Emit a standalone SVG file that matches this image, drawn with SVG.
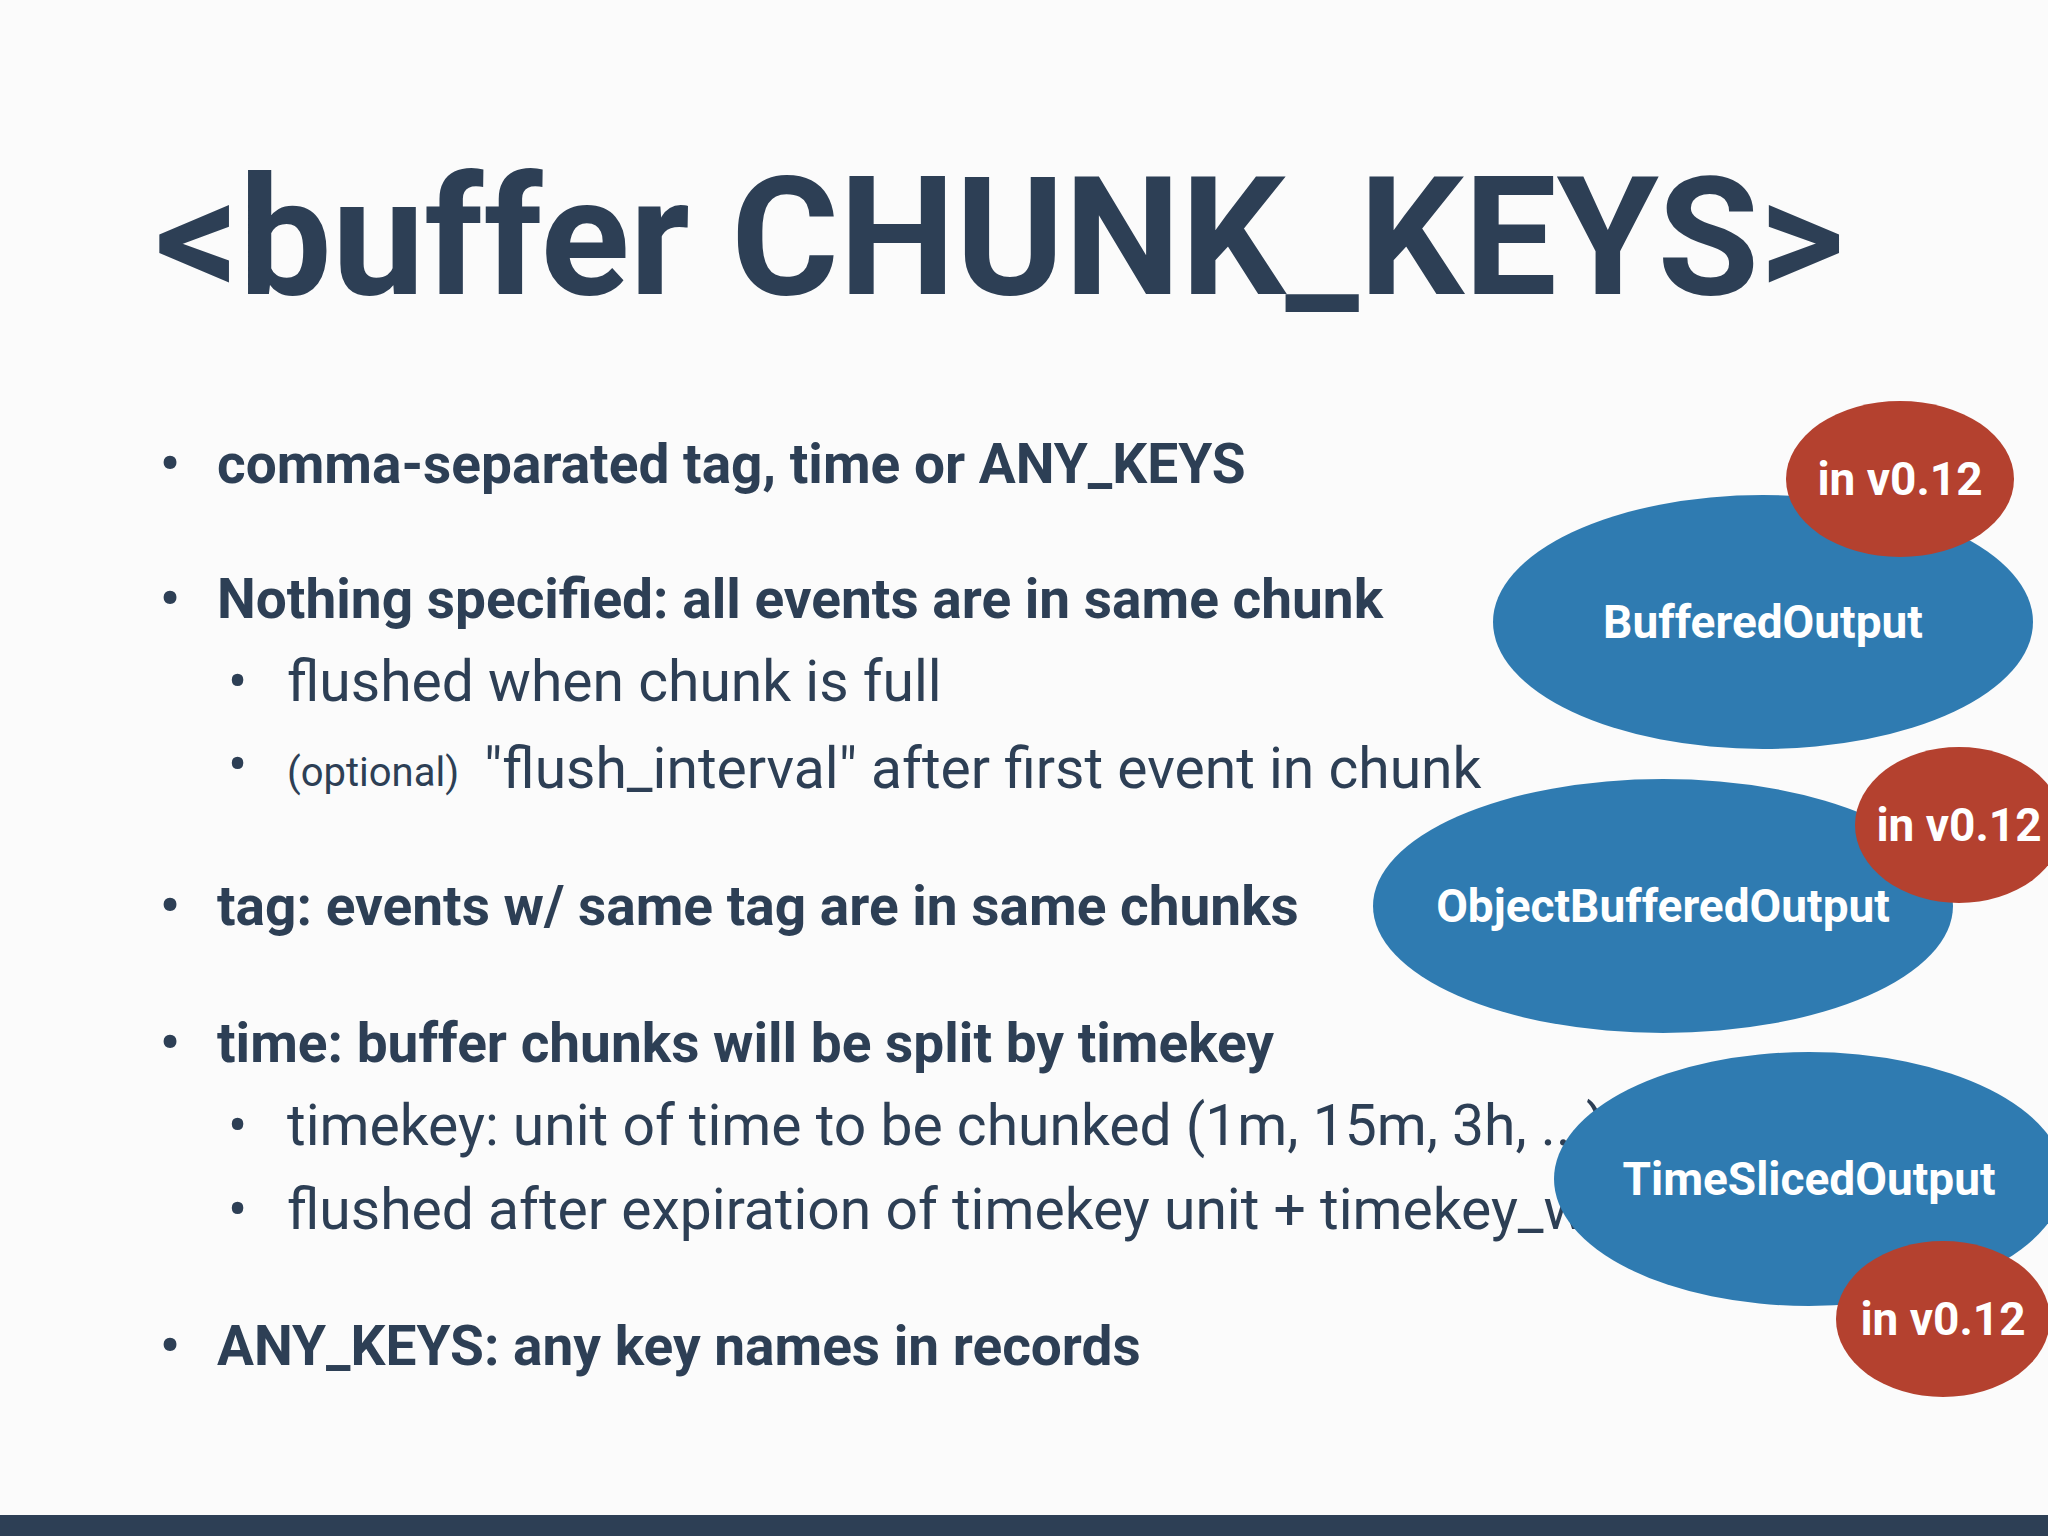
<svg xmlns="http://www.w3.org/2000/svg" width="2048" height="1536" viewBox="0 0 2048 1536">
<style>
.t{font-family:Roboto,"Liberation Sans",sans-serif;fill:#2d3f55}
.b{font-weight:bold;font-size:55px}
.r{font-size:57px}
.blue{fill:#2f7bb1}
.red{fill:#b4412f}
.w{font-family:Roboto,"Liberation Sans",sans-serif;fill:#fff;font-weight:bold;font-size:46px;text-anchor:middle}
</style>
<rect width="2048" height="1536" fill="#fbfbfb"/>
<text class="t" x="155" y="294" font-size="165" font-weight="bold">&lt;buffer CHUNK_KEYS&gt;</text>
<g class="t">
<text class="b" x="160" y="483">•</text><text class="b" x="217" y="483">comma-separated tag, time or ANY_KEYS</text>
<text class="b" x="160" y="618">•</text><text class="b" x="217" y="618">Nothing specified: all events are in same chunk</text>
<text class="r" x="228" y="701" font-size="36">•</text><text class="r" x="287" y="701">flushed when chunk is full</text>
<text class="r" x="228" y="784" font-size="30">•</text><text x="287" y="786" font-size="40">(optional)</text><text class="r" x="484" y="788">"flush_interval" after first event in chunk</text>
<text class="b" x="160" y="925">•</text><text class="b" x="217" y="925">tag: events w/ same tag are in same chunks</text>
<text class="b" x="160" y="1062">•</text><text class="b" x="217" y="1062">time: buffer chunks will be split by timekey</text>
<text class="r" x="228" y="1145" font-size="36">•</text><text class="r" x="287" y="1145">timekey: unit of time to be chunked (1m, 15m, 3h, ...)</text>
<text class="r" x="228" y="1229" font-size="36">•</text><text class="r" x="287" y="1229">flushed after expiration of timekey unit + timekey_wait</text>
<text class="b" x="160" y="1365">•</text><text class="b" x="217" y="1365">ANY_KEYS: any key names in records</text>
</g>
<g id="buffered">
<ellipse class="blue" cx="1763" cy="622" rx="270" ry="127"/>
<text class="w" x="1763" y="638">BufferedOutput</text>
</g>
<g id="v1"><ellipse class="red" cx="1900" cy="479" rx="114" ry="78"/><text class="w" x="1900" y="495">in v0.12</text></g>
<g id="object">
<ellipse class="blue" cx="1663" cy="906" rx="290" ry="127"/>
<text class="w" x="1663" y="922">ObjectBufferedOutput</text>
</g>
<g id="v2"><ellipse class="red" cx="1959" cy="825" rx="104" ry="78"/><text class="w" x="1959" y="841">in v0.12</text></g>
<g id="time">
<ellipse class="blue" cx="1809" cy="1179" rx="255" ry="127"/>
<text class="w" x="1809" y="1195">TimeSlicedOutput</text>
</g>
<g id="v3"><ellipse class="red" cx="1943" cy="1319" rx="107" ry="78"/><text class="w" x="1943" y="1335">in v0.12</text></g>
<g id="connectors"/>
<rect x="0" y="1515" width="2048" height="21" fill="#2d3f55"/>
</svg>
